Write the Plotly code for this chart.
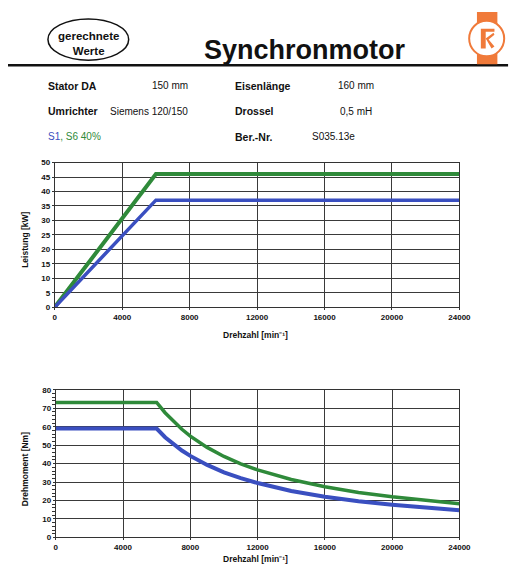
import plotly.graph_objects as go

# page body margin is 8px on every side; coordinates below are reference-picture
# pixels, shifted by OFF into figure pixels
OFF = 8
W, H = 531 - 2 * OFF, 577 - 2 * OFF

# ---- data ----
speed_power = [0, 6000, 24000]
power_s1 = [0, 37, 37]
power_s6 = [0, 46, 46]

speed_torque = [0, 6000, 6500, 7000, 7500, 8000, 9000, 10000, 11000, 12000, 13000, 14000,
                16000, 18000, 20000, 22000, 24000]
torque_s1 = [59, 59, 54.3, 50.5, 47.1, 44.2, 39.3, 35.3, 32.1, 29.5, 27.2, 25.2,
             22.1, 19.6, 17.7, 16.1, 14.7]
torque_s6 = [73.2, 73.2, 67.6, 62.8, 58.6, 54.9, 48.8, 43.9, 39.9, 36.6, 33.8, 31.4,
             27.5, 24.4, 22.0, 20.0, 18.3]

x_ticks = [0, 4000, 8000, 12000, 16000, 20000, 24000]

BLUE = "#3a4fc0"
GREEN = "#2f8a3a"
ORANGE = "#f07a3a"
FONT = "Liberation Sans"


def px(x):
    return (x - OFF) / W


def py(y):
    return 1 - (y - OFF) / H


fig = go.Figure()
fig.add_trace(go.Scatter(x=speed_power, y=power_s6, mode="lines",
                         line=dict(color=GREEN, width=4), xaxis="x", yaxis="y"))
fig.add_trace(go.Scatter(x=speed_power, y=power_s1, mode="lines",
                         line=dict(color=BLUE, width=3.5), xaxis="x", yaxis="y"))
fig.add_trace(go.Scatter(x=speed_torque, y=torque_s6, mode="lines",
                         line=dict(color=GREEN, width=3.5), xaxis="x2", yaxis="y2"))
fig.add_trace(go.Scatter(x=speed_torque, y=torque_s1, mode="lines",
                         line=dict(color=BLUE, width=4), xaxis="x2", yaxis="y2"))

tickfont = dict(family=FONT, size=8, color="#111", weight="bold")
axis_common = dict(showline=True, mirror=True, linecolor="#333", linewidth=1,
                   showgrid=True, gridcolor="#3a3a3a", gridwidth=1.3, zeroline=False,
                   tickfont=tickfont, ticks="outside", ticklen=2, tickcolor="#333",
                   fixedrange=True)

fig.update_layout(
    width=W, height=H, margin=dict(l=0, r=0, t=0, b=0),
    paper_bgcolor="white", plot_bgcolor="white", showlegend=False,
    xaxis=dict(domain=[px(54), px(470)], anchor="y", range=[0, 24000],
               tickvals=x_ticks, tickformat="d", **axis_common),
    yaxis=dict(domain=[py(308), py(161)], anchor="x", range=[0, 50], dtick=5,
               **axis_common),
    xaxis2=dict(domain=[px(55), px(470)], anchor="y2", range=[0, 24000],
                tickvals=x_ticks, tickformat="d", **axis_common),
    yaxis2=dict(domain=[py(542), py(392)], anchor="x2", range=[0, 80], dtick=10,
                minor=dict(dtick=2, ticks="outside", ticklen=3, tickcolor="#333", showgrid=False),
                **axis_common),
)
fig.update_layout(yaxis2=dict(zeroline=True, zerolinecolor="#222", zerolinewidth=3))

shapes = []
# header line
shapes.append(dict(type="line", xref="paper", yref="paper", x0=px(0), x1=px(520), y0=py(62), y1=py(62),
                   line=dict(color="#111", width=2.5)))
# oval
shapes.append(dict(type="circle", xref="paper", yref="paper", x0=px(47), x1=px(130),
                   y0=py(57), y1=py(15), line=dict(color="#111", width=1.5)))
# logo
shapes.append(dict(type="rect", xref="paper", yref="paper", x0=px(488), x1=px(509),
                   y0=py(61), y1=py(8), line=dict(width=0), fillcolor=ORANGE))
shapes.append(dict(type="circle", xref="paper", yref="paper", x0=px(480), x1=px(516),
                   y0=py(53), y1=py(17), line=dict(color=ORANGE, width=2), fillcolor="white"))
shapes.append(dict(type="path", xref="paper", yref="paper",
                   path=(f"M {px(492)} {py(25)} L {px(506)} {py(25)} L {px(506)} {py(28)} "
                         f"L {px(497)} {py(28)} L {px(497)} {py(45)} L {px(492)} {py(45)} Z"),
                   line=dict(width=0), fillcolor=ORANGE))
shapes.append(dict(type="path", xref="paper", yref="paper",
                   path=(f"M {px(497)} {py(35)} L {px(505)} {py(29)} L {px(506)} {py(31)} "
                         f"L {px(500)} {py(36)} L {px(506)} {py(43)} L {px(503)} {py(45)} Z"),
                   line=dict(width=0), fillcolor=ORANGE))
fig.update_layout(shapes=shapes)

ann = []


def text(x, y, s, size=10, bold=True, color="#111", xanchor="left", angle=0):
    ann.append(dict(x=px(x), y=py(y), xref="paper", yref="paper", text=s, showarrow=False,
                    xanchor=xanchor, yanchor="middle", textangle=angle, borderpad=0,
                    font=dict(family=FONT, size=size, color=color,
                              weight="bold" if bold else "normal")))


text(88.5, 40, "gerechnete<br>Werte", size=11.5, bold=True, xanchor="center")
text(311, 47, "Synchronmotor", size=27, bold=True, xanchor="center")

text(46, 83, "Stator DA", size=10.5)
text(153, 83, "150 mm", bold=False)
text(238, 83, "Eisenlänge", size=10.5)
text(344, 83, "160 mm", bold=False)
text(46, 109, "Umrichter", size=10.5)
text(110, 109, "Siemens 120/150", bold=False)
text(238, 109, "Drossel", size=10.5)
text(346, 109, "0,5 mH", bold=False)
text(46, 135, f"<span style='color:{BLUE}'>S1</span>, S6 40%", bold=False, color=GREEN)
text(238, 135, "Ber.-Nr.", size=10.5)
text(317, 135, "S035.13e", bold=False)

text(260, 336, "Drehzahl [min⁻¹]", size=8.5, xanchor="center")
text(260, 564, "Drehzahl [min⁻¹]", size=8.5, xanchor="center")
text(24, 240, "Leistung [kW]", size=8.5, xanchor="center", angle=-90)
text(23, 473, "Drehmoment [Nm]", size=8.5, xanchor="center", angle=-90)

fig.update_layout(annotations=ann)

fig.write_html("out.html")
